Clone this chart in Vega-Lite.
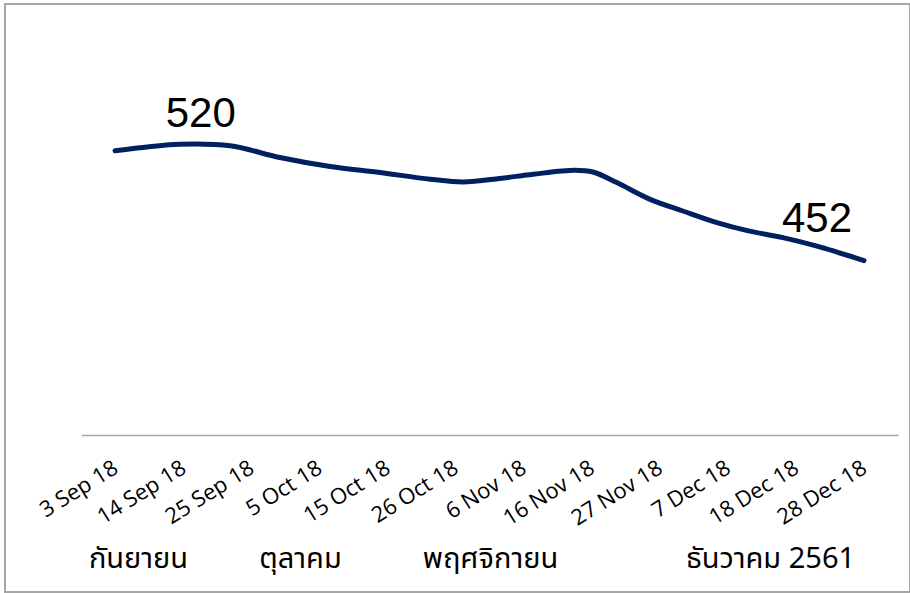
{
  "$schema": "https://vega.github.io/schema/vega-lite/v6.json",
  "width": 905,
  "height": 588,
  "autosize": {"type": "none"},
  "padding": {"left": 5, "top": 4, "right": 0, "bottom": 1},
  "background": "white",
  "config": {"view": {"stroke": "#a6a6a6", "strokeWidth": 2}},
  "data": {
    "values": [
      {"idx": 0, "value": 516.2},
      {"idx": 0.5, "value": 518.6},
      {"idx": 0.95, "value": 520, "label": "520"},
      {"idx": 1.69, "value": 519.1},
      {"idx": 2.42, "value": 512.3},
      {"idx": 3.16, "value": 507},
      {"idx": 3.89, "value": 503.5},
      {"idx": 4.63, "value": 499.6},
      {"idx": 5.11, "value": 498},
      {"idx": 5.65, "value": 500},
      {"idx": 6.14, "value": 502.5},
      {"idx": 6.75, "value": 504.8},
      {"idx": 7.02, "value": 503.8},
      {"idx": 7.37, "value": 497.6},
      {"idx": 7.86, "value": 487.8},
      {"idx": 8.34, "value": 481},
      {"idx": 8.84, "value": 474.2},
      {"idx": 9.32, "value": 469.2},
      {"idx": 9.81, "value": 465.4},
      {"idx": 10.31, "value": 460.4},
      {"idx": 11, "value": 452, "label": "452"}
    ]
  },
  "layer": [
    {
      "mark": {"type": "line", "interpolate": "catmull-rom", "color": "#002060", "strokeWidth": 5, "strokeCap": "round"},
      "encoding": {
        "x": {
          "field": "idx", "type": "quantitative",
          "scale": {"domain": [-0.5, 11.5], "range": [76, 893], "nice": false, "zero": false},
          "axis": {
            "orient": "bottom", "offset": -157, "title": null,
            "values": [0, 1, 2, 3, 4, 5, 6, 7, 8, 9, 10, 11],
            "labelExpr": "['3 Sep 18','14 Sep 18','25 Sep 18','5 Oct 18','15 Oct 18','26 Oct 18','6 Nov 18','16 Nov 18','27 Nov 18','7 Dec 18','18 Dec 18','28 Dec 18'][datum.value]",
            "domainColor": "#a6a6a6", "domainWidth": 1.5, "ticks": false, "grid": false,
            "labelAngle": -32, "labelAlign": "right", "labelBaseline": "top", "labelPadding": 22, "labelOffset": -5,
            "labelFont": "Open Sans", "labelFontSize": 22, "labelColor": "#000000",
            "labelOverlap": false, "labelBound": false, "labelFlush": false, "labelLimit": 300
          }
        },
        "y": {
          "field": "value", "type": "quantitative",
          "scale": {"domain": [350, 550], "range": [431, 89], "nice": false, "zero": false},
          "axis": null
        }
      }
    },
    {
      "transform": [{"filter": "datum.label == '520'"}],
      "mark": {"type": "text", "font": "Liberation Sans", "fontSize": 42, "align": "center", "baseline": "alphabetic", "dx": 21, "dy": -17, "color": "#000000"},
      "encoding": {
        "x": {"field": "idx", "type": "quantitative", "axis": null},
        "y": {"field": "value", "type": "quantitative", "axis": null},
        "text": {"field": "label"}
      }
    },
    {
      "transform": [{"filter": "datum.label == '452'"}],
      "mark": {"type": "text", "font": "Liberation Sans", "fontSize": 42, "align": "center", "baseline": "alphabetic", "dx": -47, "dy": -29, "color": "#000000"},
      "encoding": {
        "x": {"field": "idx", "type": "quantitative", "axis": null},
        "y": {"field": "value", "type": "quantitative", "axis": null},
        "text": {"field": "label"}
      }
    },
    {
      "mark": {"type": "point", "opacity": 0},
      "encoding": {
        "x": {
          "field": "idx", "type": "quantitative",
          "axis": {
            "orient": "bottom", "offset": -25, "title": null,
            "values": [0.337, 2.717, 5.507, 9.62],
            "labelExpr": "datum.value < 1 ? 'กันยายน' : datum.value < 3 ? 'ตุลาคม' : datum.value < 6 ? 'พฤศจิกายน' : 'ธันวาคม 2561'",
            "domain": false, "ticks": false, "grid": false,
            "labelAngle": 0, "labelAlign": "center", "labelBaseline": "alphabetic", "labelPadding": 0,
            "labelFont": "Noto Sans Thai, Loma, Garuda, Liberation Sans", "labelFontSize": 29, "labelFontWeight": "normal", "labelColor": "#000000",
            "labelOverlap": false, "labelBound": false, "labelFlush": false, "labelLimit": 400
          }
        },
        "y": {"field": "value", "type": "quantitative", "axis": null}
      }
    }
  ],
  "resolve": {"axis": {"x": "independent"}}
}
